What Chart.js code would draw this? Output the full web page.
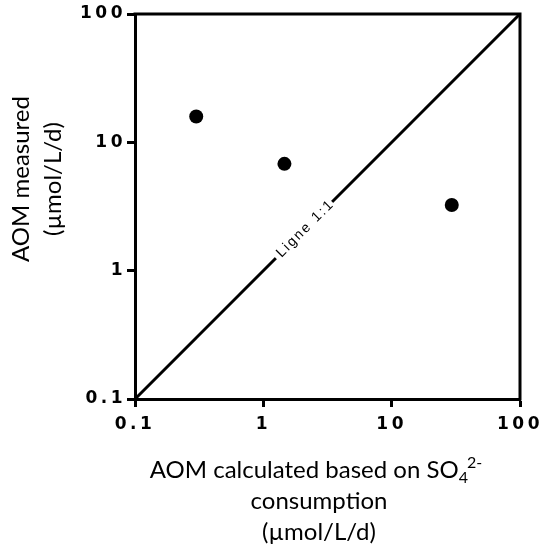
<!DOCTYPE html>
<html>
<head>
<meta charset="utf-8">
<title>AOM measured vs calculated</title>
<script src="https://cdn.jsdelivr.net/npm/chart.js@4/dist/chart.umd.min.js"></script>
<style>
  html, body { margin: 0; padding: 0; background: #fff; }
  #wrap { width: 539px; height: 554px; position: relative; }
</style>
</head>
<body>
<div id="wrap"><canvas id="aomChart"></canvas></div>
<script>
// Axis ticks (log scale, one per decade)
const xTickValues = [0.1, 1, 10, 100];
const yTickValues = [0.1, 1, 10, 100];

// AOM rates, µmol/L/d
const aomCalculated = [0.3, 1.46, 29.4];
const aomMeasured = [15.9, 6.8, 3.25];

// 1:1 reference line end points, and where its label sits on it
const oneToOne = [0.1, 100];
const oneToOneLabel = 'Ligne 1:1';
const oneToOneLabelAt = 2.1;

const yTitle = ['AOM measured', '(µmol/L/d)'];
const xTitleStart = 'AOM calculated based on SO';
const xTitleSub = '4';
const xTitleSup = '2-';
const xTitleRest = ['consumption', '(µmol/L/d)'];

const TITLE_FONT = 'Lato';
const TICK_FONT = { family: 'DejaVu Sans', weight: 'bold', size: 17 };
const TICK_SPACING = '3.5px';

// tick labels are letter-spaced; titles are drawn later with normal spacing
const tickSpacing = {
  id: 'tickSpacing',
  beforeDraw(chart) {
    chart.ctx.letterSpacing = TICK_SPACING;
  }
};

// top/right frame lines
const frame = {
  id: 'frame',
  beforeDatasetsDraw(chart) {
    const { ctx, chartArea: a } = chart;
    ctx.save();
    ctx.strokeStyle = '#000';
    ctx.lineWidth = 3;
    ctx.lineCap = 'square';
    ctx.beginPath();
    ctx.moveTo(a.left, a.top);
    ctx.lineTo(a.right, a.top);
    ctx.lineTo(a.right, a.bottom);
    ctx.stroke();
    ctx.restore();
  }
};

// label sitting on the 1:1 line, with a white gap behind it
const lineLabel = {
  id: 'lineLabel',
  afterDatasetsDraw(chart) {
    const { ctx, scales } = chart;
    const px = scales.x.getPixelForValue(oneToOneLabelAt);
    const py = scales.y.getPixelForValue(oneToOneLabelAt);
    const x0 = scales.x.getPixelForValue(oneToOne[0]);
    const y0 = scales.y.getPixelForValue(oneToOne[0]);
    const x1 = scales.x.getPixelForValue(oneToOne[1]);
    const y1 = scales.y.getPixelForValue(oneToOne[1]);
    const angle = Math.atan2(y1 - y0, x1 - x0);

    ctx.save();
    ctx.translate(px, py);
    ctx.rotate(angle);
    ctx.font = '14px "Liberation Sans", Arial, sans-serif';
    ctx.letterSpacing = '2px';
    const w = ctx.measureText(oneToOneLabel).width;
    ctx.fillStyle = '#fff';
    ctx.fillRect(-w / 2 - 3, -9, w + 4, 18);
    ctx.fillStyle = '#000';
    ctx.textAlign = 'center';
    ctx.textBaseline = 'middle';
    ctx.fillText(oneToOneLabel, 1, 0);
    ctx.restore();
  }
};

// axis titles (x title has SO4 2- with sub/superscript)
const axisTitles = {
  id: 'axisTitles',
  afterDraw(chart) {
    const { ctx } = chart;
    ctx.save();
    ctx.letterSpacing = '0px';
    ctx.fillStyle = '#000';
    ctx.textBaseline = 'alphabetic';

    // y title, rotated
    ctx.save();
    ctx.translate(29, 179);
    ctx.rotate(-Math.PI / 2);
    ctx.font = '24px ' + TITLE_FONT;
    ctx.textAlign = 'center';
    yTitle.forEach((line, i) => ctx.fillText(line, 0, i * 32));
    ctx.restore();

    // x title
    const cx = 319;
    const big = '24px ' + TITLE_FONT;
    const small = '16px ' + TITLE_FONT;
    ctx.font = big;
    const wMain = ctx.measureText(xTitleStart).width;
    ctx.font = small;
    const wSub = ctx.measureText(xTitleSub).width;
    const wSup = ctx.measureText(xTitleSup).width;
    const total = wMain + wSub + wSup - 1;
    let x = cx - 3 - total / 2;
    const base = 478;
    ctx.textAlign = 'left';
    ctx.font = big;
    ctx.fillText(xTitleStart, x, base);
    x += wMain;
    ctx.font = small;
    ctx.fillText(xTitleSub, x, base + 5);
    ctx.fillText(xTitleSup, x + wSub - 1, base - 10);

    ctx.font = big;
    ctx.textAlign = 'center';
    xTitleRest.forEach((line, i) => ctx.fillText(line, cx, base + 31 * (i + 1)));
    ctx.restore();
  }
};

function logAxis(tickValues, extra) {
  return Object.assign({
    type: 'logarithmic',
    min: tickValues[0],
    max: tickValues[tickValues.length - 1],
    afterBuildTicks(scale) {
      scale.ticks = tickValues.map(v => ({ value: v }));
    },
    grid: {
      display: true,
      drawOnChartArea: false,
      drawTicks: true,
      tickLength: 8,
      tickWidth: 3,
      tickColor: '#000'
    },
    border: { display: true, width: 3, color: '#000' },
    title: { display: false }
  }, extra);
}

new Chart(document.getElementById('aomChart'), {
  type: 'scatter',
  data: {
    datasets: [
      {
        label: 'AOM',
        data: aomCalculated.map((v, i) => ({ x: v, y: aomMeasured[i] })),
        backgroundColor: '#000',
        borderWidth: 0,
        pointRadius: 7,
        pointHoverRadius: 7,
        order: 0
      },
      {
        label: oneToOneLabel,
        data: oneToOne.map(v => ({ x: v, y: v })),
        showLine: true,
        borderColor: '#000',
        borderWidth: 3,
        pointRadius: 0,
        order: 1
      }
    ]
  },
  options: {
    responsive: true,
    maintainAspectRatio: false,
    animation: false,
    layout: { padding: { top: 14, right: 19, left: 0, bottom: 0 } },
    plugins: {
      legend: { display: false },
      tooltip: { enabled: false }
    },
    scales: {
      x: logAxis(xTickValues, {
        position: 'bottom',
        afterFit(scale) {
          scale.height = 155;
          scale.paddingLeft = 0;
          scale.paddingRight = 0;
        },
        ticks: {
          color: '#000',
          padding: 7,
          maxRotation: 0,
          font: TICK_FONT,
          callback: v => String(v)
        }
      }),
      y: logAxis(yTickValues, {
        position: 'left',
        afterFit(scale) {
          scale.width = 135;
          scale.paddingTop = 0;
          scale.paddingBottom = 0;
        },
        ticks: {
          color: '#000',
          padding: 1,
          font: TICK_FONT,
          callback: v => String(v)
        }
      })
    }
  },
  plugins: [tickSpacing, frame, lineLabel, axisTitles]
});
</script>
</body>
</html>
